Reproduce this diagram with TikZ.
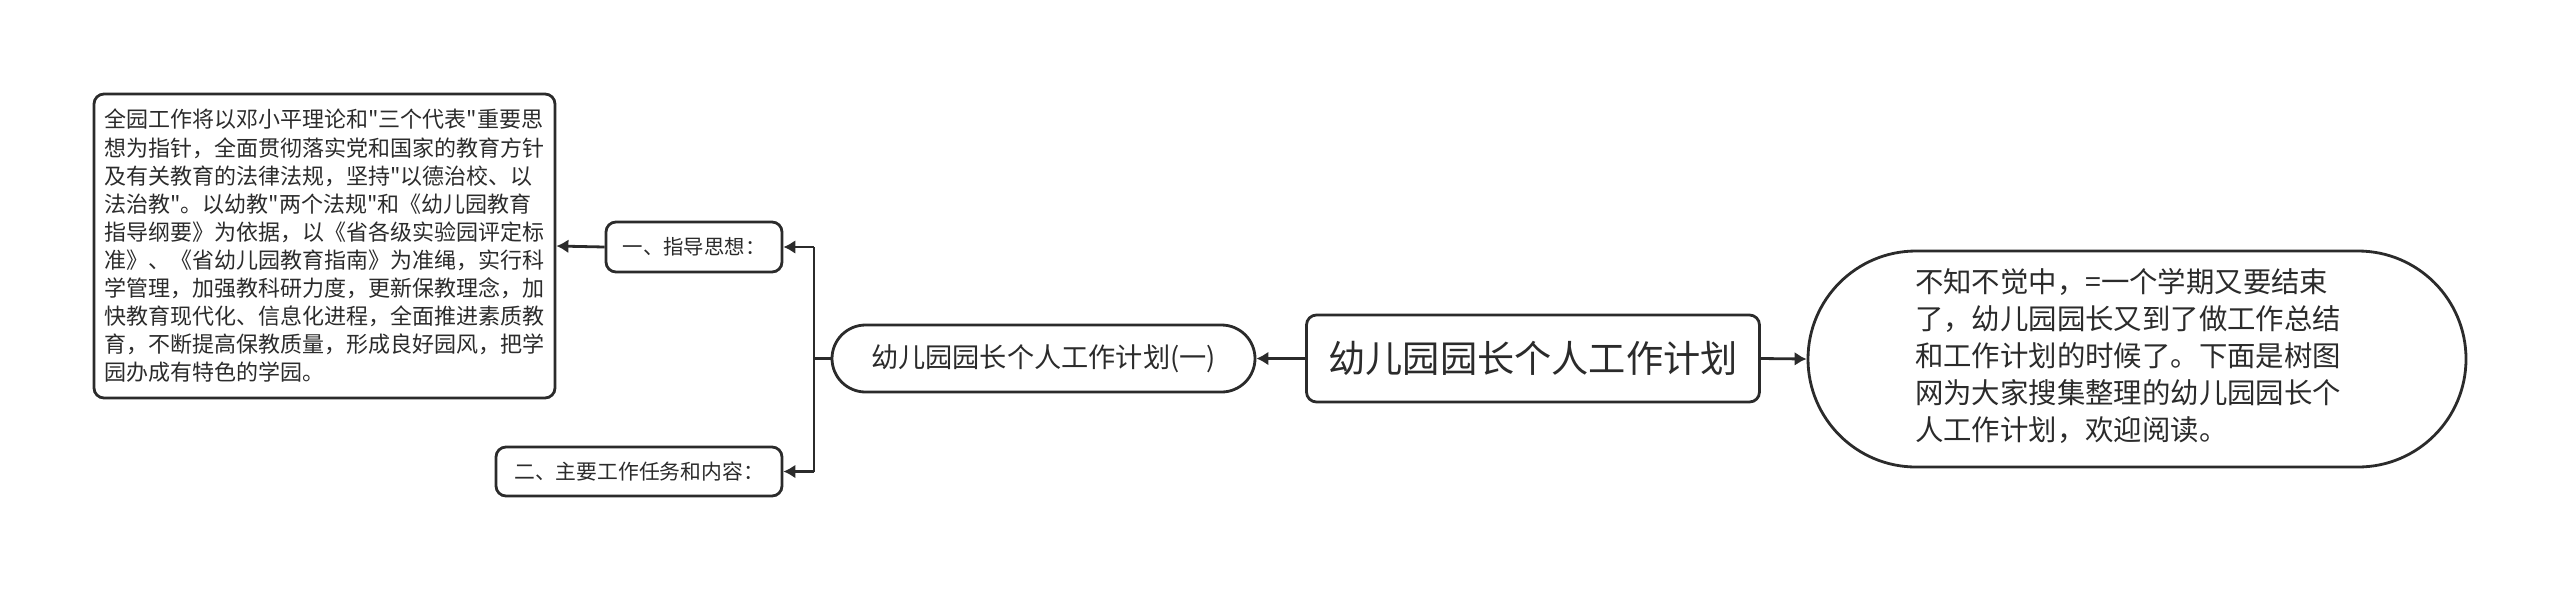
\documentclass[tikz,border=0pt]{standalone}
\usepackage{fontspec}
\newfontfamily\cjk{Noto Sans CJK SC}
\usetikzlibrary{arrows.meta}
\definecolor{ink}{HTML}{2B2B2B}
\tikzset{
  box/.style={draw=ink, line width=1.4pt, rounded corners=5pt, inner sep=0pt,
    text=ink, align=center},
  pill/.style={box, rounded corners=#1},
  link/.style={draw=ink, line width=1.4pt},
  arrow/.style={link, -{Latex[length=6pt,width=7pt]}},
}

\begin{document}
\begin{tikzpicture}[x=0.5pt, y=-0.5pt]
\useasboundingbox (0,0) rectangle (2560,591);
\node[box, minimum width=226.5pt, minimum height=43.5pt,
  font=\cjk\fontsize{18.6}{22}\selectfont] (root) at (1533,358.5) {幼儿园园长个人工作计划};
\node[pill=54pt, minimum width=329pt, minimum height=108pt, align=left,
  font=\cjk\fontsize{14.2}{18.5}\selectfont] (intro) at (2137,359)
  {\hspace*{-9pt}\begin{tabular}{@{}l@{}}不知不觉中，=一个学期又要结束\\了，幼儿园园长又到了做工作总结\\和工作计划的时候了。下面是树图\\网为大家搜集整理的幼儿园园长个\\人工作计划，欢迎阅读。\end{tabular}};
\node[pill=16.75pt, minimum width=211.5pt, minimum height=33.5pt,
  font=\cjk\fontsize{13.6}{16}\selectfont] (part) at (1043.5,358.5) {幼儿园园长个人工作计划(一)};
\node[box, minimum width=88pt, minimum height=25pt,
  font=\cjk\fontsize{10.2}{12}\selectfont] (guide) at (694,247) {一、指导思想：};
\node[box, minimum width=143pt, minimum height=24.5pt,
  font=\cjk\fontsize{10.4}{12}\selectfont] (task) at (639,471.5) {二、主要工作任务和内容：};
\node[box, minimum width=230.5pt, minimum height=152pt, align=left,
  font=\cjk\fontsize{11}{14.05}\selectfont] (guidetext) at (324.5,246)
  {全园工作将以邓小平理论和"三个代表"重要思\\想为指针，全面贯彻落实党和国家的教育方针\\及有关教育的法律法规，坚持"以德治校、以\\法治教"。以幼教"两个法规"和《幼儿园教育\\指导纲要》为依据，以《省各级实验园评定标\\准》、《省幼儿园教育指南》为准绳，实行科\\学管理，加强教科研力度，更新保教理念，加\\快教育现代化、信息化进程，全面推进素质教\\育，不断提高保教质量，形成良好园风，把学\\园办成有特色的学园。};
\coordinate (fork) at (814,358.5);
\draw[arrow] (root.east) -- (intro.west);
\draw[arrow] (root.west) -- (part.east);
\draw[link] (part.west) -- (fork);
\draw[link] (fork |- guide) -- (fork |- task);
\draw[arrow] (fork |- guide) -- (guide.east);
\draw[arrow] (fork |- task) -- (task.east);
\draw[arrow] (guide.west) -- (guidetext.east);
\end{tikzpicture}
\end{document}
